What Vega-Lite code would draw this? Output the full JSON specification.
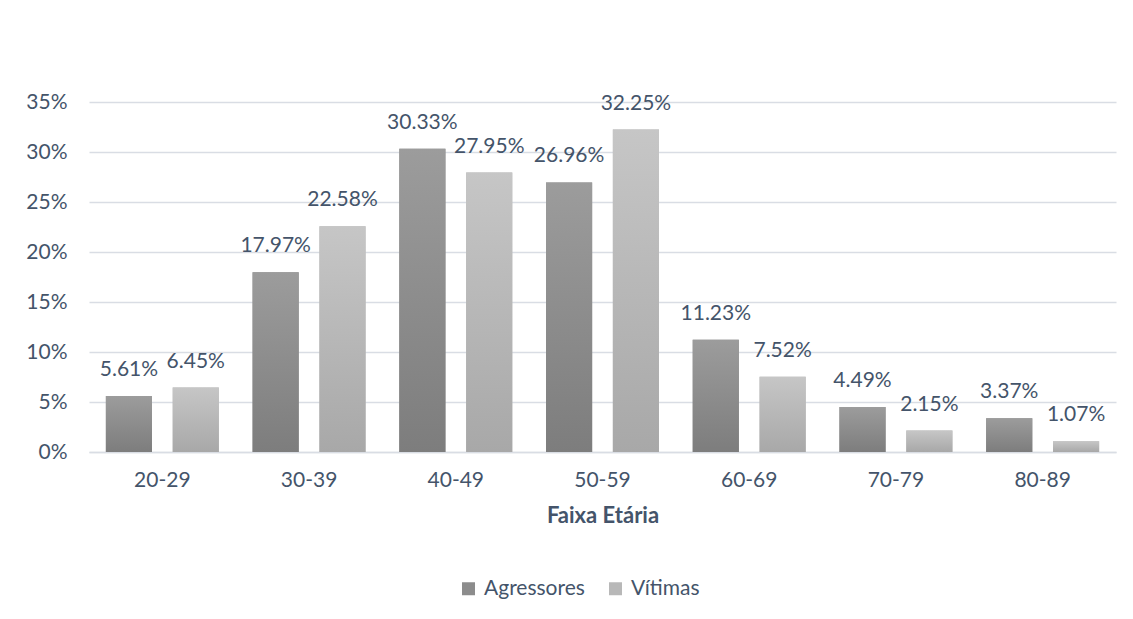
{
  "$schema": "https://vega.github.io/schema/vega-lite/v6.json",
  "width": 1027,
  "height": 350,
  "autosize": {"type": "none"},
  "padding": {"left": 89, "top": 102, "right": 17, "bottom": 167},
  "background": "white",
  "config": {
    "font": "Lato",
    "view": {"stroke": null},
    "axis": {"labelFont": "Lato", "titleFont": "Lato", "labelColor": "#44546a", "titleColor": "#44546a"},
    "legend": {"labelFont": "Lato"}
  },
  "data": {
    "values": [
      {"faixa": "20-29", "grupo": "Agressores", "valor": 0.0561},
      {"faixa": "20-29", "grupo": "Vítimas", "valor": 0.0645},
      {"faixa": "30-39", "grupo": "Agressores", "valor": 0.1797},
      {"faixa": "30-39", "grupo": "Vítimas", "valor": 0.2258},
      {"faixa": "40-49", "grupo": "Agressores", "valor": 0.3033},
      {"faixa": "40-49", "grupo": "Vítimas", "valor": 0.2795},
      {"faixa": "50-59", "grupo": "Agressores", "valor": 0.2696},
      {"faixa": "50-59", "grupo": "Vítimas", "valor": 0.3225},
      {"faixa": "60-69", "grupo": "Agressores", "valor": 0.1123},
      {"faixa": "60-69", "grupo": "Vítimas", "valor": 0.0752},
      {"faixa": "70-79", "grupo": "Agressores", "valor": 0.0449},
      {"faixa": "70-79", "grupo": "Vítimas", "valor": 0.0215},
      {"faixa": "80-89", "grupo": "Agressores", "valor": 0.0337},
      {"faixa": "80-89", "grupo": "Vítimas", "valor": 0.0107}
    ]
  },
  "encoding": {
    "x": {
      "field": "faixa", "type": "nominal", "sort": null,
      "scale": {"paddingInner": 0.23, "paddingOuter": 0.115},
      "axis": {
        "title": "Faixa Etária", "labelAngle": 0, "labelFontSize": 21, "labelPadding": 17,
        "ticks": false, "domainColor": "#d9dde4", "domainWidth": 1.5,
        "titleFontSize": 22, "titleFontWeight": "bold", "titlePadding": 15
      }
    },
    "xOffset": {"field": "grupo", "type": "nominal", "scale": {"paddingInner": 0.31, "paddingOuter": 0}},
    "y": {
      "field": "valor", "type": "quantitative",
      "scale": {"domain": [0, 0.35], "nice": false},
      "axis": {
        "title": null, "format": ".0%", "values": [0, 0.05, 0.1, 0.15, 0.2, 0.25, 0.3, 0.35],
        "labelFontSize": 21, "labelPadding": 22, "ticks": false, "domain": false,
        "gridColor": "#d9dde4", "gridWidth": 1.5
      }
    }
  },
  "layer": [
    {
      "mark": {"type": "bar"},
      "encoding": {
        "color": {
          "field": "grupo", "type": "nominal",
          "scale": {"domain": ["Agressores", "Vítimas"], "range": ["#8c8c8c", "#b8b8b8"]},
          "legend": {
            "title": null, "orient": "none", "direction": "horizontal", "legendX": 369, "legendY": 476,
            "symbolType": "square", "symbolSize": 169, "symbolStrokeWidth": 0,
            "labelFontSize": 21, "labelColor": "#44546a", "columnPadding": 20, "labelOffset": 5
          }
        }
      }
    },
    {
      "transform": [{"filter": "datum.grupo === 'Agressores'"}],
      "mark": {
        "type": "bar",
        "fill": {"gradient": "linear", "x1": 0, "y1": 0, "x2": 0, "y2": 1, "stops": [{"offset": 0, "color": "#9c9c9c"}, {"offset": 1, "color": "#7d7d7d"}]}
      }
    },
    {
      "transform": [{"filter": "datum.grupo === 'Vítimas'"}],
      "mark": {
        "type": "bar",
        "fill": {"gradient": "linear", "x1": 0, "y1": 0, "x2": 0, "y2": 1, "stops": [{"offset": 0, "color": "#c6c6c6"}, {"offset": 1, "color": "#a8a8a8"}]}
      }
    },
    {
      "mark": {"type": "text", "baseline": "alphabetic", "dy": -20, "fontSize": 21, "color": "#44546a", "font": "Lato"},
      "encoding": {
        "text": {"field": "valor", "type": "quantitative", "format": ".2%"}
      }
    }
  ]
}
